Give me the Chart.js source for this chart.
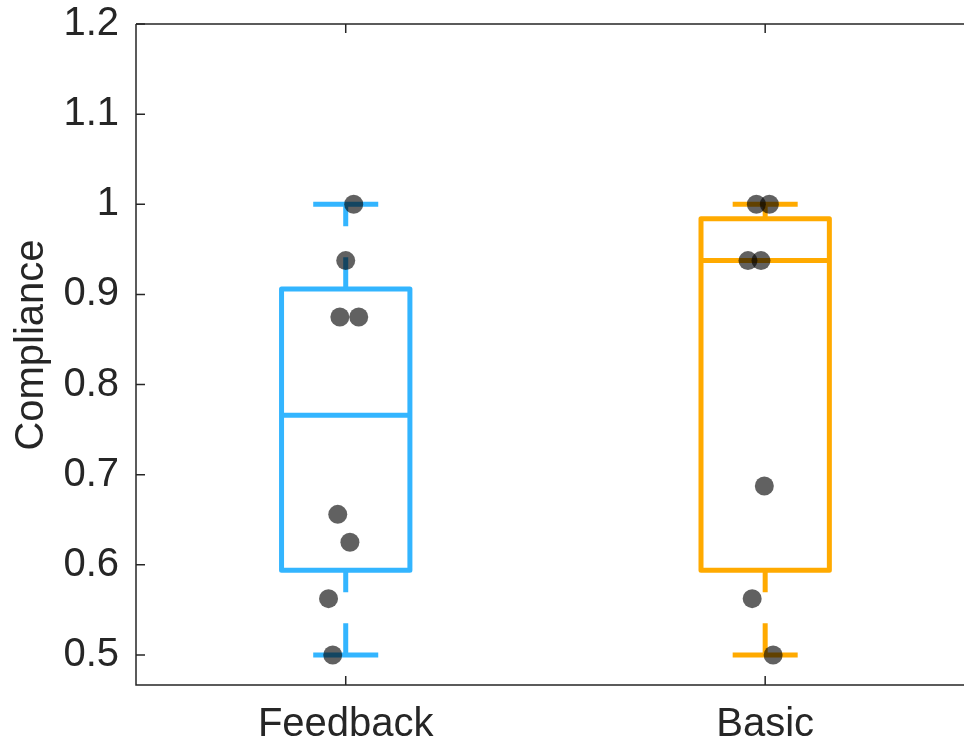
<!DOCTYPE html>
<html>
<head>
<meta charset="utf-8">
<script src="https://cdn.jsdelivr.net/npm/chart.js@4.4.1/dist/chart.umd.min.js"></script>
<style>
  html, body { margin: 0; padding: 0; background: #fff; overflow: hidden; }
  #wrap { width: 964px; height: 745px; }
</style>
</head>
<body>
<div id="wrap"><canvas id="myChart" width="964" height="745"></canvas></div>
<script>
// categories and tick labels
const categories = ["Feedback", "Basic"];
const yTicks = [0.5, 0.6, 0.7, 0.8, 0.9, 1.0, 1.1, 1.2];

// box statistics per category: min, q1, median, q3, max
const boxMin = [0.5, 0.5];
const boxQ1 = [0.594, 0.594];
const boxMedian = [0.766, 0.9375];
const boxQ3 = [0.906, 0.984];
const boxMax = [1.0, 1.0];

// raw points (jittered x offsets)
const feedbackVals = [1.0, 0.9375, 0.875, 0.875, 0.656, 0.625, 0.5625, 0.5];
const feedbackJitter = [0.019, 0.0, -0.014, 0.031, -0.019, 0.010, -0.041, -0.031];
const basicVals = [1.0, 1.0, 0.9375, 0.9375, 0.6875, 0.5625, 0.5];
const basicJitter = [-0.021, 0.010, -0.041, -0.010, -0.002, -0.031, 0.019];

const colors = ["#33B5FF", "#FFAA00"];
const boxHalf = 0.153;
const capHalf = 0.0775;
const axisColor = "#262626";

function line(points, color, extra) {
    return Object.assign({
        data: points,
        showLine: true,
        borderColor: color,
        borderWidth: 5,
        pointRadius: 0,
        fill: false,
        order: 1
    }, extra || {});
}

const datasets = [];

// dots on top
const pointsSets = [[feedbackVals, feedbackJitter], [basicVals, basicJitter]];
pointsSets.forEach((ps, i) => {
    datasets.push({
        data: ps[0].map((v, k) => ({ x: i + 1 + ps[1][k], y: v })),
        showLine: false,
        pointRadius: 9.5,
        pointBackgroundColor: "rgba(0,0,0,0.62)",
        pointBorderWidth: 0,
        order: 0
    });
});

categories.forEach((c, i) => {
    const x = i + 1;
    const col = colors[i];
    // box
    datasets.push(line([
        { x: x - boxHalf, y: boxQ1[i] }, { x: x + boxHalf, y: boxQ1[i] },
        { x: x + boxHalf, y: boxQ3[i] }, { x: x - boxHalf, y: boxQ3[i] },
        { x: x - boxHalf, y: boxQ1[i] }
    ], col, { borderJoinStyle: "round" }));
    // median
    datasets.push(line([{ x: x - boxHalf, y: boxMedian[i] }, { x: x + boxHalf, y: boxMedian[i] }], col));
    // whiskers (drawn top to bottom, dashed)
    datasets.push(line([{ x: x, y: boxMax[i] }, { x: x, y: boxQ3[i] }], col, { borderDash: [32, 31], borderDashOffset: 10 }));
    datasets.push(line([{ x: x, y: boxQ1[i] }, { x: x, y: boxMin[i] }], col, { borderDash: [32, 31], borderDashOffset: 10 }));
    // caps
    datasets.push(line([{ x: x - capHalf, y: boxMax[i] }, { x: x + capHalf, y: boxMax[i] }], col));
    datasets.push(line([{ x: x - capHalf, y: boxMin[i] }, { x: x + capHalf, y: boxMin[i] }], col));
});

// axes box, inner ticks and y label
const axesPlugin = {
    id: "axesBox",
    afterDraw(chart) {
        const ctx = chart.ctx;
        const a = chart.chartArea;
        const xs = chart.scales.x;
        const ys = chart.scales.y;
        ctx.save();
        ctx.strokeStyle = axisColor;
        ctx.lineWidth = 1.5;
        ctx.beginPath();
        ctx.moveTo(a.left, a.top);
        ctx.lineTo(a.right + 10, a.top);
        ctx.moveTo(a.left, a.top);
        ctx.lineTo(a.left, a.bottom);
        ctx.lineTo(a.right + 10, a.bottom);
        ctx.stroke();
        ctx.beginPath();
        yTicks.forEach(v => {
            const y = ys.getPixelForValue(v);
            ctx.moveTo(a.left, y);
            ctx.lineTo(a.left + 9, y);
        });
        categories.forEach((c, i) => {
            const x = xs.getPixelForValue(i + 1);
            ctx.moveTo(x, a.bottom);
            ctx.lineTo(x, a.bottom - 9);
            ctx.moveTo(x, a.top);
            ctx.lineTo(x, a.top + 9);
        });
        ctx.stroke();

        ctx.fillStyle = axisColor;
        ctx.font = "40px 'Liberation Sans', Arial, sans-serif";
        ctx.textAlign = "center";
        ctx.textBaseline = "alphabetic";
        ctx.translate(43, 345);
        ctx.rotate(-Math.PI / 2);
        ctx.fillText("Compliance", 0, 0);
        ctx.restore();
    }
};

const ctx = document.getElementById("myChart").getContext("2d");
const myChart = new Chart(ctx, {
    type: "scatter",
    data: { datasets: datasets },
    options: {
        responsive: false,
        animation: false,
        events: [],
        layout: { autoPadding: false, padding: { top: 24, right: 0, left: 0, bottom: 0 } },
        plugins: { legend: { display: false }, tooltip: { enabled: false } },
        scales: {
            x: {
                type: "linear",
                min: 0.5,
                max: 2.474,
                grid: { display: false },
                border: { display: false },
                afterBuildTicks: s => { s.ticks = categories.map((c, i) => ({ value: i + 1 })); },
                afterFit: s => { s.height = 60; s.paddingLeft = 0; s.paddingRight = 0; },
                ticks: {
                    padding: 8,
                    color: axisColor,
                    font: { family: "'Liberation Sans', Arial, sans-serif", size: 40 },
                    callback: v => categories[Math.round(v) - 1]
                }
            },
            y: {
                type: "linear",
                min: 0.4667,
                max: 1.2,
                grid: { display: false },
                border: { display: false },
                afterBuildTicks: s => { s.ticks = yTicks.map(v => ({ value: v })); },
                afterFit: s => { s.width = 136; s.paddingTop = 0; s.paddingBottom = 0; },
                ticks: {
                    padding: 9,
                    color: axisColor,
                    font: { family: "'Liberation Sans', Arial, sans-serif", size: 40 },
                    callback: v => String(Number(v.toFixed(1)))
                }
            }
        }
    },
    plugins: [axesPlugin]
});
</script>
</body>
</html>
